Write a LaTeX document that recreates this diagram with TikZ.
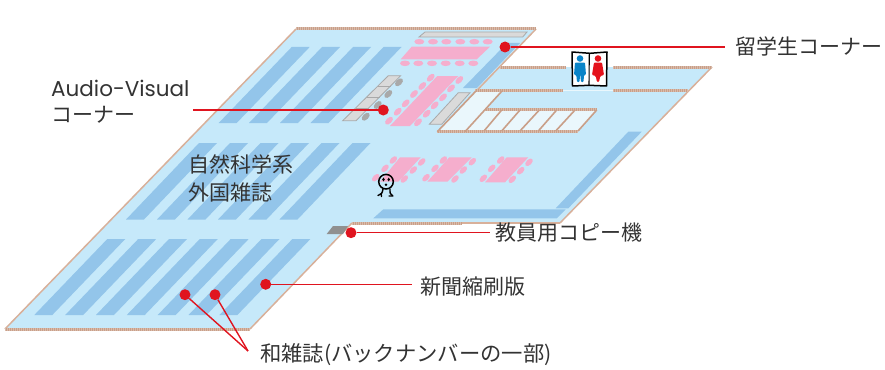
\documentclass[tikz,border=0pt]{standalone}
\usepackage{fontspec}
\setmainfont{Noto Sans CJK JP}
\newfontfamily\latinf{Poppins}
\definecolor{floorc}{HTML}{C6E9FA}
\definecolor{stripec}{HTML}{93C5EA}
\definecolor{pinkc}{HTML}{F5AECD}
\definecolor{redc}{HTML}{E0141F}
\definecolor{wallc}{HTML}{D8B09A}
\definecolor{hatchc}{HTML}{C99F88}
\definecolor{paleb}{HTML}{EAF7FC}
\definecolor{grayf}{HTML}{DADADA}
\definecolor{grayd}{HTML}{A9A9A9}
\definecolor{textc}{HTML}{333333}
\definecolor{manc}{HTML}{0A84C8}
\definecolor{womc}{HTML}{E4121C}
\tikzset{
  edgeline/.style={draw=wallc,line width=1.5pt},
  hatchline/.style={draw=hatchc,line width=3pt,postaction={draw=white,line width=3pt,dash pattern=on 0.8pt off 1.2pt,opacity=.3}},
  thinhatch/.style={draw=hatchc,line width=1.6pt},
  stripe/.style={fill=stripec},
  tablefill/.style={fill=pinkc},
  shelf/.style={fill=grayf,draw=grayd,line width=.8pt},
  dotmark/.style={circle,fill=redc,draw=none,minimum size=11pt,inner sep=0pt},
  leader/.style={draw=redc,line width=1.4pt},
  lab/.style={anchor=west,inner sep=0pt,text=textc,font=\fontsize{21pt}{21pt}\selectfont},
}
\newcommand{\diagbar}[3]{\fill[stripe] (#1,#2) -- ++(18,0) -- ++(-73,#3) -- ++(-18,0) -- cycle;}
\begin{document}
\begin{tikzpicture}[x=1pt,y=-1pt]
\useasboundingbox (0,0) rectangle (885,369);
% floor
\fill[floorc] (5,329) -- (296,29) -- (536,29) -- (500,67) -- (712,67) -- (560,223) -- (352,223) -- (250,329) -- cycle;
\draw[edgeline] (5,329) -- (296,29);
\draw[edgeline] (536,29) -- (460,108);
\draw[edgeline] (712,67) -- (560,223);
\draw[edgeline] (352,223) -- (250,329);
\draw[hatchline] (296,29) -- (536,29);
\draw[hatchline] (500,67) -- (566,67);
\draw[hatchline] (613,67) -- (712,67);
\draw[hatchline] (5,329) -- (250,329);
\draw[hatchline] (352,223) -- (462,223);
\draw[edgeline] (462,223) -- (560,223);
% stripes
\foreach \x in {107.3,138.2,169,199.8,230.7,261.5,292.4} {\diagbar{\x}{239}{76}}
\foreach \x in {291.7,322,353,383.5} {\diagbar{\x}{47}{76}}
\foreach \x in {199,230,260.5,291,321.5,352.5} {\diagbar{\x}{143}{76.5}}
\fill[stripe] (507,43) -- (520,43) -- (477,88) -- (463,88) -- cycle;
\fill[stripe] (628.3,131.7) -- (641.7,131.7) -- (568.3,208.3) -- (555.7,208.3) -- cycle;
\fill[stripe] (383.3,209.3) -- (565.7,209.3) -- (556.7,218.3) -- (373.3,218.3) -- cycle;
% top room
\draw[shelf] (425,32) -- (527,32) -- (522.7,37) -- (419,37) -- cycle;
\fill[tablefill] (411.7,46.7) -- (490,46.7) -- (476.7,59.3) -- (400.7,59.3) -- cycle;
\foreach \x in {419.3,433,446.3,460.3,474.3,487.7} {\fill[pinkc] (\x,41.7) ellipse[x radius=5pt,y radius=2.8pt];}
\foreach \x in {405,418.3,432,445.7,459.7,473.3} {\fill[pinkc] (\x,63.3) ellipse[x radius=5pt,y radius=2.8pt];}
% AV shelves
\draw[shelf] (388.3,75.7) -- (400.7,75.7) -- (356,120.7) -- (342.7,120.7) -- cycle;
\draw[grayd,line width=.8pt] (378,86) -- (390.5,86) (367,97.3) -- (379.5,97.3) (356,108.3) -- (368.5,108.3);
\foreach \p in {(399,82.3),(388.3,94),(377.7,105),(365.7,116.7)} {\fill[grayd] \p ellipse[x radius=4.8pt,y radius=2.9pt,rotate=45];}
% big table
\fill[tablefill] (437.3,76) -- (458.3,76) -- (410,126) -- (390,126) -- cycle;
\foreach \p in {(430.7,77.7),(422.3,86),(414,94),(405.7,103.3),(397.7,111.7),(389,120.7),(459.3,80),(451,88.3),(443,97.3),(434.7,105.3),(426.7,113.7),(418,122.3)} {\fill[pinkc] \p ellipse[x radius=4.8pt,y radius=2.8pt,rotate=45];}
\draw[shelf] (458.3,92.7) -- (470,92.7) -- (441.7,124.3) -- (429.3,124.3) -- cycle;
% lower tables
\fill[tablefill] (400,157.3) -- (420.7,157.3) -- (398.3,181.7) -- (380,181.7) -- cycle;
\fill[tablefill] (449.3,157.3) -- (471.7,157.3) -- (447.3,181.7) -- (427.3,181.7) -- cycle;
\fill[tablefill] (506.7,157.3) -- (528.3,157.3) -- (505,182.3) -- (485,182.3) -- cycle;
\foreach \p in {(393.3,160),(385,168.3),(375.7,177.7),(421.7,162),(413.3,170),(404.3,179),(443.3,160),(435,168.3),(426,177.7),(472.3,161.7),(463.3,170),(455,179),(500.7,160),(491.7,168.3),(483.3,178.3),(529,162.3),(520.7,170.7),(512.3,179.3)} {\fill[pinkc] \p ellipse[x radius=4.6pt,y radius=2.7pt,rotate=45];}
% annex interior
\fill[paleb] (476,91) -- (502,91) -- (485,109.3) -- (596.7,109.3) -- (578,131.7) -- (437.3,131.7) -- cycle;
\draw[hatchline] (475,90.7) -- (563,90.7);
\draw[hatchline] (613,90.7) -- (688,90.7);
\draw[paleb,line width=1.2pt] (563,90.7) -- (613,90.7);
\draw[hatchline] (485,109.3) -- (597,109.3);
\draw[hatchline] (437.3,131.7) -- (578,131.7);
\draw[thinhatch] (476,91) -- (437.3,131.7);
\draw[thinhatch] (502,91) -- (465,131.7);
\foreach \a/\b in {501.7/484,520/501.7,539.3/520,556.7/538.3,575/555.7,596.7/578} {\draw[thinhatch] (\a,110) -- (\b,131);}
% copier
\fill[grayd!85!black] (333,226) -- (348,226) -- (343,234) -- (326.7,234) -- cycle;
% toilet sign
\fill[white] (572,52) -- (607,52) -- (607,86) -- (572,86) -- cycle;
\draw[black,line width=1.5pt,line join=round] (572,52) -- (590,53.3) -- (607,52) -- (606.5,86) -- (589,85.3) -- (572.5,86) -- cycle;
\draw[black,line width=1.1pt] (589.3,53.5) -- (589,85);
\fill[manc] (580,58.5) circle (3.3pt);
\fill[manc,rounded corners=1pt] (575,62.5) -- (585,62.5) -- (586,75) -- (584,75) -- (583.5,82) -- (581,82) -- (580.2,73) -- (579.5,82) -- (577,82) -- (576.3,75) -- (574,75) -- cycle;
\fill[womc] (598,58.5) circle (3.3pt);
\fill[womc,rounded corners=1pt] (594,62.5) -- (602,62.5) -- (604,75) -- (600.3,76) -- (599,82) -- (597,82) -- (595.7,76) -- (592,75) -- cycle;
% person
\draw[black,line width=1.5pt] (386,181.7) circle (7.3pt);
\fill[black] (383.5,179.5) ellipse[x radius=1.3pt,y radius=1.9pt];
\fill[black] (388.7,179.5) ellipse[x radius=1.3pt,y radius=1.9pt];
\fill[black] (386,184.7) circle (1.4pt);
\draw[black,line width=1.4pt,line cap=round] (383,189) .. controls (382.5,193) and (381,195) .. (378,195.5) (390,189) .. controls (390,193) and (390,195) .. (392.5,195.5);
\draw[black,line width=1.4pt,line cap=round] (381,193.5) -- (381.5,196.5) (389,196) -- (393,196);
% labels
\node[lab] (ryu) at (735,46) {留学生コーナー};
\node[lab] (av1) at (51,88) {\latinf\fontsize{21.5pt}{21.5pt}\selectfont Audio-Visual};
\node[lab] (av2) at (51,115) {コーナー};
\node[lab] (nat1) at (188,164) {自然科学系};
\node[lab] (nat2) at (188,192) {外国雑誌};
\node[lab] (copy) at (495,233) {教員用コピー機};
\node[lab] (news) at (420,287) {新聞縮刷版};
\node[lab] (wa) at (260,355) {\fontsize{21.3pt}{21.3pt}\selectfont 和雑誌(バックナンバーの一部)};
% dots
\node[dotmark] (d1) at (505,47) {};
\node[dotmark] (d2) at (383.3,110) {};
\node[dotmark] (d3) at (351,232.7) {};
\node[dotmark] (d4) at (265.7,284.3) {};
\node[dotmark] (d5) at (185,294.7) {};
\node[dotmark] (d6) at (215,294.7) {};
\coordinate (e1) at (725,47);
\coordinate (e2) at (193,110);
\coordinate (e3) at (490,232.7);
\coordinate (e4) at (412,284.3);
\coordinate (e5) at (248,351);
\draw[leader] (d1) -- (e1);
\draw[leader] (d2) -- (e2);
\draw[leader] (d3) -- (e3);
\draw[leader] (d4) -- (e4);
\draw[leader] (d5) -- (e5);
\draw[leader] (d6) -- (e5);
\end{tikzpicture}
\end{document}
